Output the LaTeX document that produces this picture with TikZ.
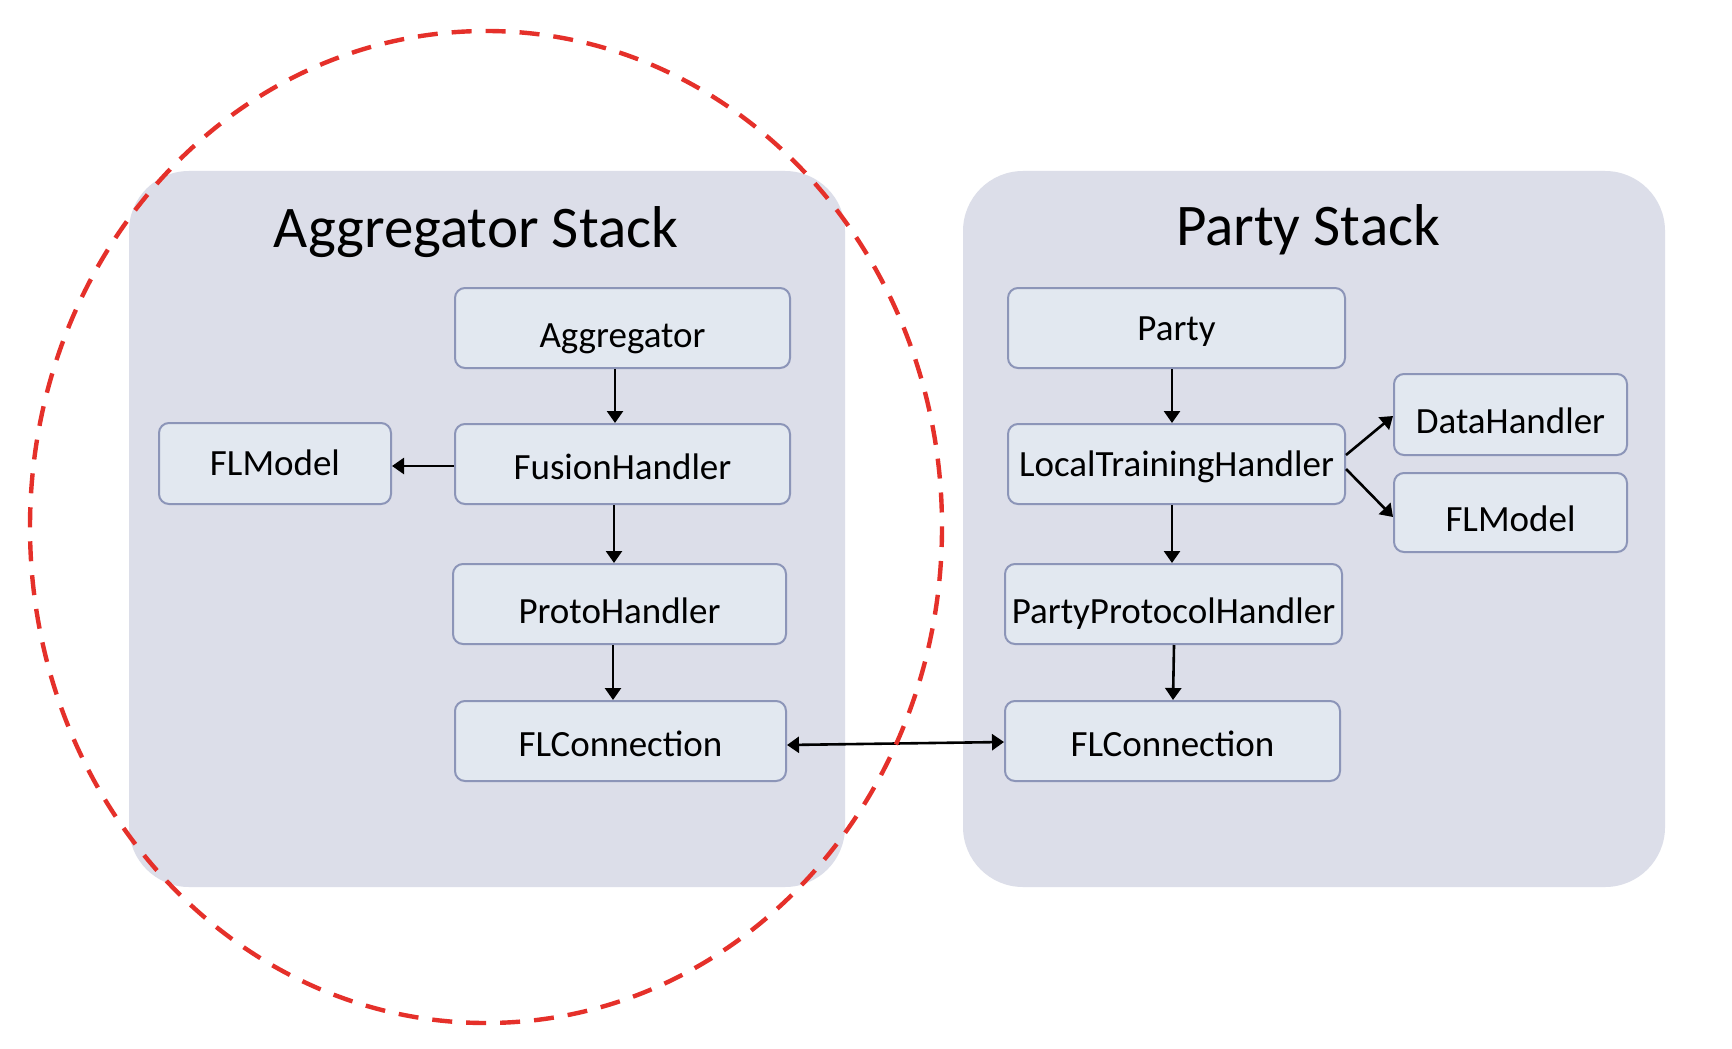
\documentclass[tikz,border=0pt]{standalone}
\usepackage{fontspec}
\setmainfont{Carlito}
\usetikzlibrary{arrows.meta,calc}
\definecolor{panelfill}{HTML}{DCDEE9}
\definecolor{boxfill}{HTML}{E2E8F0}
\definecolor{boxline}{HTML}{8C95B8}
\definecolor{dashred}{HTML}{E5302A}
\begin{document}
\begin{tikzpicture}[x=0.5pt,y=-0.5pt,
  panelbox/.style={fill=panelfill, rounded corners=30pt, draw=none},
  comp/.style={draw=boxline, line width=1pt, fill=boxfill, rounded corners=5pt,
    font=\fontsize{18.5}{22}\selectfont, text height=12.4pt, text depth=0pt,
    inner sep=0pt, minimum height=40pt},
  lowtext/.style={text height=19pt},
  midtext/.style={text height=15.7pt},
  arr/.style={-{Triangle[length=6pt,width=8pt]}, line width=1.3pt},
  darr/.style={{Triangle[length=6pt,width=8pt]}-{Triangle[length=6pt,width=8pt]}, line width=1.3pt},
  stacktitle/.style={font=\fontsize{29.5}{35}\selectfont, anchor=base, inner sep=0pt}]
\useasboundingbox (0,0) rectangle (1732,1048);
\fill[white] (0,0) rectangle (1732,1048);
% panels
\path[panelbox] (129,171) rectangle (845,887);
\path[panelbox] (963,171) rectangle (1665,887);
\node[stacktitle] (ttlA) at (476,248) {Aggregator Stack};
\node[stacktitle] (ttlP) at (1308,245) {Party Stack};
% aggregator stack
\node[comp, lowtext, minimum width=167.5pt] (agg) at (622.5,328) {Aggregator};
\node[comp, midtext, minimum width=167.5pt] (fus) at (622.5,464) {FusionHandler};
\node[comp, minimum width=116pt, minimum height=40.5pt] (flmL) at (275,463.5) {FLModel};
\node[comp, lowtext, minimum width=166.5pt] (proto) at (619.5,604) {ProtoHandler};
\node[comp, midtext, minimum width=165.5pt] (flcL) at (620.5,741) {FLConnection};
% party stack
\node[comp, minimum width=168.5pt] (party) at (1176.5,328) {Party};
\node[comp, minimum width=168.5pt] (lth) at (1176.5,464) {LocalTrainingHandler};
\node[comp, lowtext, minimum width=116.5pt, minimum height=40.5pt] (dh) at (1510.5,414.5) {DataHandler};
\node[comp, lowtext, minimum width=116.5pt, minimum height=39.5pt] (flmR) at (1510.5,512.5) {FLModel};
\node[comp, lowtext, minimum width=168.5pt] (pph) at (1173.5,604) {PartyProtocolHandler};
\node[comp, midtext, minimum width=167.5pt] (flcR) at (1172.5,741) {FLConnection};
% connectors
\draw[arr] (agg.south -| 615,0) -- (fus.north -| 615,0);
\draw[arr] (fus.west |- 0,466) -- (flmL.east |- 0,466);
\draw[arr] (fus.south -| 614,0) -- (proto.north -| 614,0);
\draw[arr] (proto.south -| 613,0) -- (flcL.north -| 613,0);
\draw[darr] ($(flcL.east)+(0,4)$) -- ($(flcR.west)+(0,1)$);
\draw[arr] (party.south -| 1172,0) -- (lth.north -| 1172,0);
\draw[arr] ($(lth.east)+(0,-9)$) -- ($(dh.west)+(0,1.5)$);
\draw[arr] ($(lth.east)+(0,5)$) -- ($(flmR.west)+(0,4.5)$);
\draw[arr] (lth.south -| 1172,0) -- (pph.north -| 1172,0);
\draw[arr] (pph.south -| 1174,0) -- (flcR.north -| 1173,0);
% dashed ellipse
\draw[dashred, line width=2.2pt, dash pattern=on 10pt off 7pt] (486,527) ellipse [x radius=456, y radius=496];
\end{tikzpicture}
\end{document}
